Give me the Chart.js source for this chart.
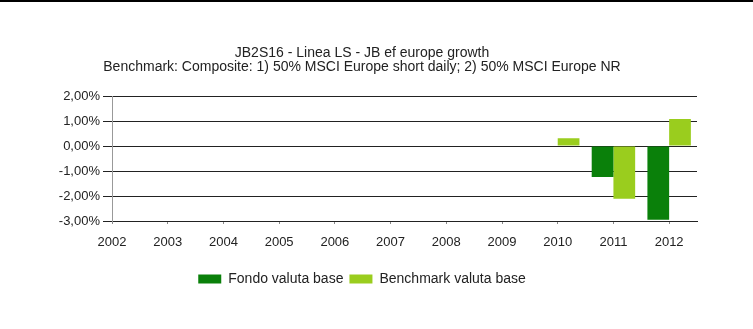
<!DOCTYPE html>
<html>
<head>
<meta charset="utf-8">
<script src="https://cdn.jsdelivr.net/npm/chart.js@4.4.1/dist/chart.umd.min.js"></script>
<style>
  html, body { margin: 0; padding: 0; background: #fff; }
  #wrap { position: relative; width: 753px; height: 329px; }
  #bar { position: absolute; left: 0; top: 0; width: 753px; height: 2px; background: #000; z-index: 2; }
  canvas { position: absolute; left: 0; top: 0; }
</style>
</head>
<body>
<div id="wrap">
  <div id="bar"></div>
  <canvas id="chart-perf" width="753" height="329"></canvas>
</div>
<script>
const years = [2002, 2003, 2004, 2005, 2006, 2007, 2008, 2009, 2010, 2011, 2012]
const fondo = [null, null, null, null, null, null, null, null, null, -1.24, -2.95]
const benchmark = [null, null, null, null, null, null, null, null, 0.31, -2.11, 1.08]
const title_lines = [
  'JB2S16 - Linea LS - JB ef europe growth',
  'Benchmark: Composite: 1) 50% MSCI Europe short daily; 2) 50% MSCI Europe NR'
]
const series_names = ['Fondo valuta base', 'Benchmark valuta base']

function make_chart(){
  const canvas = document.getElementById('chart-perf')
  const font_family = '"Liberation Sans", Arial, sans-serif'

  return new Chart(canvas, {
    type: 'bar',
    data: {
      datasets: [
        {
          label: series_names[0],
          data: years.map((y, i) => ({x: y, y: fondo[i]})),
          backgroundColor: '#0a800a',
        },
        {
          label: series_names[1],
          data: years.map((y, i) => ({x: y, y: benchmark[i]})),
          backgroundColor: '#9acd1e',
        },
      ]
    },
    options: {
      responsive: false,
      animation: false,
      categoryPercentage: 0.78,
      barPercentage: 1,
      layout: {
        // left padding shifts title/legend centre towards the reference
        padding: {left: 27, right: 56, top: 0, bottom: 33}
      },
      plugins: {
        title: {
          display: true,
          text: title_lines,
          color: '#222',
          font: {family: font_family, size: 14, weight: 'normal', lineHeight: 1},
          padding: {top: 46, bottom: 22},
        },
        legend: {
          position: 'bottom',
          labels: {
            color: '#222',
            font: {family: font_family, size: 14},
            boxWidth: 23,
            boxHeight: 9,
            padding: 6,
          }
        },
        tooltip: {enabled: false},
      },
      scales: {
        x: {
          type: 'linear',
          offset: false,
          min: 2002,
          max: 2012.5,
          ticks: {
            stepSize: 1,
            includeBounds: false,
            color: '#222',
            font: {family: font_family, size: 13},
            padding: 11,
            maxRotation: 0,
            callback: v => String(v),
          },
          grid: {
            offset: false,
            drawOnChartArea: false,
            drawTicks: true,
            tickLength: 3,
            color: '#888',
          },
          border: {color: '#222'},
          afterFit: scale => { scale.height = 45 },
        },
        y: {
          min: -3,
          max: 2,
          ticks: {
            stepSize: 1,
            color: '#222',
            font: {family: font_family, size: 13},
            padding: 3,
            callback: v => v.toFixed(2).replace('.', ',') + '%',
          },
          grid: {
            color: '#222',
            tickLength: 9,
          },
          border: {color: '#999'},
          afterFit: scale => { scale.width = 85 },
        }
      }
    }
  })
}

let chart = make_chart()
</script>
</body>
</html>
